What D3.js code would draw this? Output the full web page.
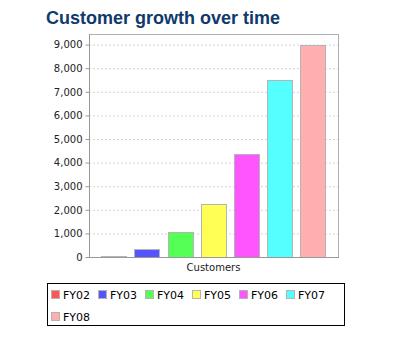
<!DOCTYPE html>
<html>
<head>
<meta charset="utf-8">
<script src="https://cdn.jsdelivr.net/npm/d3@7"></script>
<style>
body{margin:0;background:#fff;}
svg{display:block;}
</style>
</head>
<body>
<script>
// data
const category = "Customers";
const seriesNames = ["FY02","FY03","FY04","FY05","FY06","FY07","FY08"];
const seriesValues = [40, 340, 1050, 2240, 4350, 7480, 9000];
const seriesColors = ["#ff5555","#5555ff","#55ff55","#ffff55","#ff55ff","#55ffff","#ffafaf"];
const yTicks = [0,1000,2000,3000,4000,5000,6000,7000,8000,9000];

const width = 393, height = 354;
const plot = {left:89, right:338, top:34, bottom:257};

const svg = d3.select("body").append("svg")
	.attr("width",width)
	.attr("height",height);

// title
svg.append("text")
	.attr("x",46)
	.attr("y",24)
	.attr("font-family","'Liberation Sans', Arial, sans-serif")
	.attr("font-weight","bold")
	.attr("font-size",18)
	.attr("fill","#0f3a6b")
	.text("Customer growth over time");

const yScale = d3.scaleLinear()
	.domain([0, 9450])
	.range([plot.bottom, plot.top]);

const xScale = d3.scaleBand()
	.domain(seriesNames)
	.range([plot.left, plot.right])
	.paddingInner(0.24)
	.paddingOuter(0.37);

// gridlines
svg.append("g")
	.selectAll("line")
	.data(yTicks.filter(d=>d>0))
	.enter().append("line")
		.attr("x1",plot.left)
		.attr("x2",plot.right)
		.attr("y1",d=>yScale(d)+0.5)
		.attr("y2",d=>yScale(d)+0.5)
		.attr("stroke","#d4d4d4")
		.attr("stroke-dasharray","2,2");

// plot outline
svg.append("rect")
	.attr("x",plot.left+0.5)
	.attr("y",plot.top+0.5)
	.attr("width",plot.right-plot.left)
	.attr("height",plot.bottom-plot.top)
	.attr("fill","none")
	.attr("stroke","#b0b0b0");

// bars
const bars = seriesNames.map((s,i)=>({name:s,value:seriesValues[i],color:seriesColors[i]}));
svg.append("g")
	.selectAll("rect")
	.data(bars)
	.enter().append("rect")
		.attr("x",d=>Math.round(xScale(d.name))+0.5)
		.attr("y",d=>Math.round(yScale(d.value))+0.5)
		.attr("width",Math.round(xScale.bandwidth()))
		.attr("height",d=>Math.max(0,Math.round(plot.bottom-yScale(d.value))))
		.attr("fill",d=>d.color)
		.attr("stroke","#b4b4b4")
		.attr("stroke-width",1);

// y axis
const yAxis = svg.append("g")
	.attr("transform","translate("+(plot.left+0.5)+",0)")
	.call(d3.axisLeft(yScale).tickValues(yTicks).tickFormat(d3.format(",")).tickSize(4).tickPadding(3));
yAxis.select(".domain").attr("stroke","#999").attr("d","M0,"+plot.top+"V"+plot.bottom);
yAxis.selectAll(".tick line").attr("stroke","#999");
yAxis.selectAll(".tick text")
	.attr("font-family","'DejaVu Sans', sans-serif")
	.attr("font-size",10)
	.attr("fill","#222");

// x axis line
svg.append("line")
	.attr("x1",plot.left)
	.attr("x2",plot.right+1)
	.attr("y1",plot.bottom+0.5)
	.attr("y2",plot.bottom+0.5)
	.attr("stroke","#999");

// category label
svg.append("text")
	.attr("x",(plot.left+plot.right)/2)
	.attr("y",271)
	.attr("text-anchor","middle")
	.attr("font-family","'DejaVu Sans', sans-serif")
	.attr("font-size",10)
	.attr("fill","#222")
	.text(category);

// legend
const legend = svg.append("g");
legend.append("rect")
	.attr("x",47.5)
	.attr("y",283.5)
	.attr("width",297)
	.attr("height",42)
	.attr("fill","#fff")
	.attr("stroke","#000");

const perRow = 6, itemW = 47;
const items = legend.selectAll("g.item")
	.data(bars)
	.enter().append("g")
		.attr("class","item")
		.attr("transform",(d,i)=>"translate("+(51+(i%perRow)*itemW)+","+(294+Math.floor(i/perRow)*22)+")");
items.append("rect")
	.attr("x",0.5)
	.attr("y",-3.5)
	.attr("width",8)
	.attr("height",8)
	.attr("fill",d=>d.color)
	.attr("stroke","#b4b4b4");
items.append("text")
	.attr("x",12)
	.attr("y",4.5)
	.attr("font-family","'DejaVu Sans', sans-serif")
	.attr("font-size",11)
	.attr("fill","#000")
	.text(d=>d.name);
</script>
</body>
</html>
